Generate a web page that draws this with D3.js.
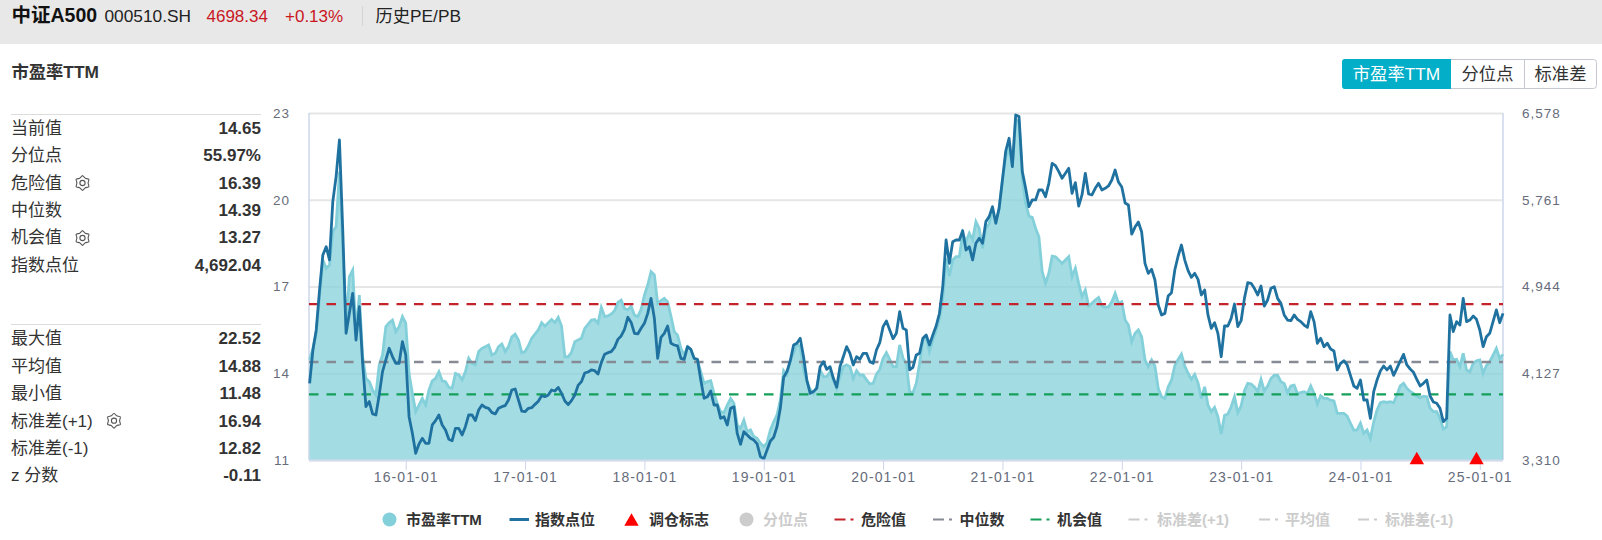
<!DOCTYPE html>
<html lang="zh-CN">
<head>
    <meta charset="UTF-8">
    <title>中证A500 历史PE/PB</title>
    <script src="https://cdn.jsdelivr.net/npm/d3@7"></script>
    <style>
        body { margin: 0; background: #fff; }
        svg { display: block; }
        text { font-family: "Liberation Sans", "Noto Sans CJK SC", sans-serif; }
        .axis text { font-size: 13.5px; fill: #666c7c; letter-spacing: 1px; }
        .axis path { display: none; }
        .axis-x text { font-size: 14px; letter-spacing: 1.1px; }
        .axis-x line { stroke: #ccd6eb; stroke-width: 1; }
        .grid line { stroke: #e6e6e6; stroke-width: 2; }
    </style>
</head>
<body>
<script>
    // 日期，约每 10 天一个点
    const dates = [
        '15-03-11','15-03-21',
        '15-04-01','15-04-11','15-04-21','15-05-01','15-05-11','15-05-21','15-06-01','15-06-11','15-06-21',
        '15-07-01','15-07-11','15-07-21','15-08-01','15-08-11','15-08-21','15-09-01','15-09-11','15-09-21',
        '15-10-01','15-10-11','15-10-21','15-11-01','15-11-11','15-11-21','15-12-01','15-12-11','15-12-21',
        '16-01-01','16-01-11','16-01-21','16-02-01','16-02-11','16-02-21','16-03-01','16-03-11','16-03-21',
        '16-04-01','16-04-11','16-04-21','16-05-01','16-05-11','16-05-21','16-06-01','16-06-11','16-06-21',
        '16-07-01','16-07-11','16-07-21','16-08-01','16-08-11','16-08-21','16-09-01','16-09-11','16-09-21',
        '16-10-01','16-10-11','16-10-21','16-11-01','16-11-11','16-11-21','16-12-01','16-12-11','16-12-21',
        '17-01-01','17-01-11','17-01-21','17-02-01','17-02-11','17-02-21','17-03-01','17-03-11','17-03-21',
        '17-04-01','17-04-11','17-04-21','17-05-01','17-05-11','17-05-21','17-06-01','17-06-11','17-06-21',
        '17-07-01','17-07-11','17-07-21','17-08-01','17-08-11','17-08-21','17-09-01','17-09-11','17-09-21',
        '17-10-01','17-10-11','17-10-21','17-11-01','17-11-11','17-11-21','17-12-01','17-12-11','17-12-21',
        '18-01-01','18-01-11','18-01-21','18-02-01','18-02-11','18-02-21','18-03-01','18-03-11','18-03-21',
        '18-04-01','18-04-11','18-04-21','18-05-01','18-05-11','18-05-21','18-06-01','18-06-11','18-06-21',
        '18-07-01','18-07-11','18-07-21','18-08-01','18-08-11','18-08-21','18-09-01','18-09-11','18-09-21',
        '18-10-01','18-10-11','18-10-21','18-11-01','18-11-11','18-11-21','18-12-01','18-12-11','18-12-21',
        '19-01-01','19-01-11','19-01-21','19-02-01','19-02-11','19-02-21','19-03-01','19-03-11','19-03-21',
        '19-04-01','19-04-11','19-04-21','19-05-01','19-05-11','19-05-21','19-06-01','19-06-11','19-06-21',
        '19-07-01','19-07-11','19-07-21','19-08-01','19-08-11','19-08-21','19-09-01','19-09-11','19-09-21',
        '19-10-01','19-10-11','19-10-21','19-11-01','19-11-11','19-11-21','19-12-01','19-12-11','19-12-21',
        '20-01-01','20-01-11','20-01-21','20-02-01','20-02-11','20-02-21','20-03-01','20-03-11','20-03-21',
        '20-04-01','20-04-11','20-04-21','20-05-01','20-05-11','20-05-21','20-06-01','20-06-11','20-06-21',
        '20-07-01','20-07-11','20-07-21','20-08-01','20-08-11','20-08-21','20-09-01','20-09-11','20-09-21',
        '20-10-01','20-10-11','20-10-21','20-11-01','20-11-11','20-11-21','20-12-01','20-12-11','20-12-21',
        '21-01-01','21-01-11','21-01-21','21-02-01','21-02-11','21-02-21','21-03-01','21-03-11','21-03-21',
        '21-04-01','21-04-11','21-04-21','21-05-01','21-05-11','21-05-21','21-06-01','21-06-11','21-06-21',
        '21-07-01','21-07-11','21-07-21','21-08-01','21-08-11','21-08-21','21-09-01','21-09-11','21-09-21',
        '21-10-01','21-10-11','21-10-21','21-11-01','21-11-11','21-11-21','21-12-01','21-12-11','21-12-21',
        '22-01-01','22-01-11','22-01-21','22-02-01','22-02-11','22-02-21','22-03-01','22-03-11','22-03-21',
        '22-04-01','22-04-11','22-04-21','22-05-01','22-05-11','22-05-21','22-06-01','22-06-11','22-06-21',
        '22-07-01','22-07-11','22-07-21','22-08-01','22-08-11','22-08-21','22-09-01','22-09-11','22-09-21',
        '22-10-01','22-10-11','22-10-21','22-11-01','22-11-11','22-11-21','22-12-01','22-12-11','22-12-21',
        '23-01-01','23-01-11','23-01-21','23-02-01','23-02-11','23-02-21','23-03-01','23-03-11','23-03-21',
        '23-04-01','23-04-11','23-04-21','23-05-01','23-05-11','23-05-21','23-06-01','23-06-11','23-06-21',
        '23-07-01','23-07-11','23-07-21','23-08-01','23-08-11','23-08-21','23-09-01','23-09-11','23-09-21',
        '23-10-01','23-10-11','23-10-21','23-11-01','23-11-11','23-11-21','23-12-01','23-12-11','23-12-21',
        '24-01-01','24-01-11','24-01-21','24-02-01','24-02-11','24-02-21','24-03-01','24-03-11','24-03-21',
        '24-04-01','24-04-11','24-04-21','24-05-01','24-05-11','24-05-21','24-06-01','24-06-11','24-06-21',
        '24-07-01','24-07-11','24-07-21','24-08-01','24-08-11','24-08-21','24-09-01','24-09-11','24-09-21',
        '24-10-01','24-10-11','24-10-21','24-11-01','24-11-11','24-11-21','24-12-01','24-12-11','24-12-21',
        '25-01-01','25-01-11','25-01-21','25-02-01','25-02-11','25-02-21','25-03-01','25-03-11'
    ];

    // 市盈率TTM
    const peValues = [
        14.46,14.86,15.38,16.65,17.92,17.63,17.74,18.90,19.07,20.97,
        18.38,15.61,17.34,17.57,15.38,16.70,14.57,13.82,13.71,13.42,
        13.25,14.29,14.63,15.61,15.75,15.84,15.44,15.61,15.96,15.73,
        13.99,13.31,12.67,12.90,13.13,12.90,13.42,13.74,13.82,14.05,
        13.74,13.71,13.51,13.48,13.99,13.94,13.77,14.05,14.52,14.34,
        14.29,14.75,14.86,14.92,14.98,14.63,14.69,14.92,
        15.01,14.75,14.92,15.26,15.35,15.15,14.71,14.75,14.95,15.21,
        15.35,15.50,15.75,15.63,15.75,15.86,15.75,15.93,15.63,14.57,
        14.57,14.72,15.09,15.15,15.21,15.55,15.69,15.84,15.86,15.73,
        16.28,15.96,15.98,16.05,16.16,16.45,16.53,16.24,16.19,16.32,
        16.01,15.96,16.21,16.70,17.05,17.51,17.40,16.42,16.51,16.59,
        16.47,15.98,15.44,15.32,14.86,14.63,14.92,14.83,14.51,14.46,
        14.05,13.65,13.71,13.74,13.30,12.94,12.67,12.64,12.90,13.13,
        12.96,12.21,12.09,12.38,11.98,12.04,11.81,11.75,11.58,11.46,
        11.60,12.04,12.32,12.56,13.07,14.09,13.94,14.43,14.69,15.01,
        14.92,14.11,13.71,13.44,13.30,13.53,
        14.11,13.88,13.88,14.05,13.77,13.48,13.88,14.23,14.29,14.23,
        13.82,14.09,13.94,13.94,13.77,13.63,13.65,13.97,14.13,14.52,
        14.71,14.48,14.23,14.23,14.98,14.52,14.34,13.36,13.33,13.65,
        14.34,15.15,15.24,14.75,15.15,15.47,15.90,16.59,17.97,17.36,
        17.92,18.03,18.03,18.84,18.55,18.84,18.61,19.24,19.01,18.32,
        19.01,19.18,19.64,19.21,19.70,20.68,21.47,21.78,21.14,22.76,
        22.70,20.68,19.88,19.44,19.39,19.01,18.72,17.51,17.11,17.46,
        18.05,18.03,17.92,17.80,17.92,18.03,17.34,17.63,17.11,16.65,
        16.88,16.33,16.42,16.53,16.62,16.33,16.28,16.30,16.47,16.76,
        16.42,16.47,15.84,15.67,15.09,15.38,15.50,15.26,14.46,14.23,
        14.46,14.25,13.48,13.19,13.13,13.53,13.76,14.27,14.48,14.66,
        14.25,14.00,13.79,13.96,13.67,13.13,13.53,12.90,12.67,12.82,
        12.50,11.90,12.55,12.59,12.84,13.19,12.64,12.87,13.40,13.65,
        13.63,13.53,13.36,13.79,13.39,13.56,13.82,13.93,13.93,13.71,
        13.65,13.33,13.56,13.59,13.30,13.33,13.36,13.30,13.56,13.30,
        12.94,13.22,13.13,13.13,13.07,13.04,12.61,12.61,12.61,12.52,
        12.27,12.03,12.04,12.27,11.92,12.04,11.75,12.32,12.73,12.98,
        13.02,12.99,13.02,12.98,13.25,13.56,13.65,13.48,13.37,13.30,
        13.21,13.15,13.21,13.19,12.79,12.67,12.67,12.44,12.07,12.15,
        14.75,14.46,14.48,14.23,14.69,14.11,14.05,14.34,14.43,14.46,
        14.00,14.27,14.40,14.63,14.86,14.51,14.65
    ];

    // 指数点位
    const indexValues = [
        4032,4346,4535,4911,5241,5319,5194,5743,5979,6324,
        5476,4503,4692,4880,4440,4754,4221,3813,3860,3744,
        3734,3923,4142,4252,4362,4284,4221,4221,4425,4299,
        3718,3562,3373,3461,3514,3467,3467,3640,3681,3734,
        3640,3593,3505,3492,3608,3608,3546,3624,3734,3734,
        3681,3781,3828,3806,3797,3756,3744,3797,
        3812,3822,3875,3969,3979,3875,3771,3765,3797,3803,
        3834,3863,3916,3906,3922,3969,3960,3994,3938,3866,
        3831,3869,3922,4013,4048,4129,4139,4158,4151,4120,
        4227,4305,4321,4330,4371,4446,4478,4541,4654,4606,
        4503,4497,4550,4597,4691,4832,4644,4267,4465,4503,
        4572,4409,4393,4384,4267,4258,4377,4352,4267,4258,
        4063,3891,3906,3960,3828,3828,3702,3718,3640,3797,
        3812,3561,3458,3577,3546,3514,3498,3461,3341,3320,
        3404,3489,3524,3624,3797,4089,4142,4245,4393,4409,
        4456,4283,4063,3938,3954,3985,
        4189,4236,4164,4189,4079,3995,4189,4283,4378,4315,
        4205,4283,4258,4315,4315,4236,4221,4346,4415,4566,
        4619,4535,4453,4503,4707,4550,4535,4158,4183,4299,
        4315,4456,4487,4393,4487,4572,4692,4943,5382,5162,
        5366,5382,5382,5470,5288,5319,5194,5351,5398,5351,
        5555,5602,5696,5539,5680,5947,6220,6340,6073,6559,
        6544,6026,5869,5696,5759,5759,5853,5853,5790,5916,
        6104,6082,6026,5963,6010,6057,5822,5922,5702,5806,
        6010,5815,5806,5869,5916,5853,5869,5891,5947,6041,
        5928,5881,5730,5712,5438,5504,5551,5457,
        5162,5068,5106,5005,4770,4676,4691,4854,4886,5099,
        5231,5335,5193,5093,5030,5068,5011,4864,4911,4676,
        4550,4603,4503,4283,4572,4572,4644,4779,4566,4622,
        4832,4980,4974,4927,4864,4949,4760,4817,4927,4942,
        4832,4785,4676,4628,4622,4676,4635,4613,4581,4559,
        4707,4613,4409,4456,4377,4409,4355,4337,4158,4220,
        4245,4205,4104,4007,3985,4063,3875,3875,3702,3954,
        4063,4148,4195,4158,4195,4107,4173,4242,4305,4205,
        4167,4136,4070,4007,4032,4063,3913,3856,3844,3797,
        3671,3702,4676,4519,4613,4581,4832,4613,4628,4666,
        4635,4534,4377,4471,4503,4613,4723,4603,4691
    ];

    // 调仓标志
    const rebalanceDates = ['24-06-21', '24-12-21'];

    // 参考线
    const dangerValue = 16.39;
    const medianValue = 14.39;
    const chanceValue = 13.27;

    // 刻度
    const xTickLabels = ['16-01-01','17-01-01','18-01-01','19-01-01','20-01-01','21-01-01','22-01-01','23-01-01','24-01-01','25-01-01'];
    const peTicks = [11, 14, 17, 20, 23];
    const indexTicks = [3310, 4127, 4944, 5761, 6578];

    // 左侧统计表
    const statsTop = [['当前值','14.65'],['分位点','55.97%'],['危险值','16.39'],['中位数','14.39'],['机会值','13.27'],['指数点位','4,692.04']];
    const statsBottom = [['最大值','22.52'],['平均值','14.88'],['最小值','11.48'],['标准差(+1)','16.94'],['标准差(-1)','12.82'],['z 分数','-0.11']];

    const legendLabels = ['市盈率TTM','指数点位','调仓标志','分位点','危险值','中位数','机会值','标准差(+1)','平均值','标准差(-1)'];
    const tabLabels = ['市盈率TTM','分位点','标准差'];

    const w = 1602, h = 540;
    const plotLeft = 309, plotRight = 1503, plotTop = 113, plotBottom = 460;

    const svg = d3.select('body').append('svg')
        .attr('width', w)
        .attr('height', h);

    // 顶部标题栏
    svg.append('rect').attr('width', w).attr('height', 44).attr('fill', '#e8e8e8');
    const head = [
        ['中证A500', 11.5, 19.5, 'bold', '#111'],
        ['000510.SH', 104.5, 17.3, 'normal', '#222'],
        ['4698.34', 206.5, 17, 'normal', '#c8171e'],
        ['+0.13%', 285, 17, 'normal', '#c8171e'],
        ['历史PE/PB', 375.5, 17.3, 'normal', '#222']
    ];
    svg.selectAll('.head').data(head).enter().append('text')
        .attr('x', d => d[1]).attr('y', 21.5)
        .attr('font-size', d => d[2]).attr('font-weight', d => d[3]).attr('fill', d => d[4])
        .text(d => d[0]);
    svg.append('line').attr('x1', 362.5).attr('x2', 362.5).attr('y1', 6).attr('y2', 26).attr('stroke', '#d4d4d4');

    svg.append('text').attr('x', 11.5).attr('y', 78)
        .attr('font-size', 17.3).attr('font-weight', 'bold').attr('fill', '#333')
        .text('市盈率TTM');

    // 右上角切换按钮
    const tabX = [1342, 1451, 1524, 1597];
    svg.append('rect').attr('x', 1342.5).attr('y', 59.5).attr('width', 254).attr('height', 29)
        .attr('rx', 3).attr('fill', '#fff').attr('stroke', '#c5c8d0');
    svg.append('path')
        .attr('d', 'M1451,59 H1345 a3,3 0 0 0 -3,3 V86 a3,3 0 0 0 3,3 H1451 Z')
        .attr('fill', '#02aec8');
    svg.append('line').attr('x1', 1524.5).attr('x2', 1524.5).attr('y1', 59).attr('y2', 89).attr('stroke', '#c5c8d0');
    svg.selectAll('.tab').data(tabLabels).enter().append('text')
        .attr('x', (d, i) => (tabX[i] + tabX[i + 1]) / 2).attr('y', 79.5)
        .attr('text-anchor', 'middle').attr('font-size', 17.3)
        .attr('fill', (d, i) => i === 0 ? '#fff' : '#333')
        .text(d => d);

    // 齿轮图标
    const gearLine = d3.lineRadial().curve(d3.curveCardinalClosed.tension(0.5));
    const gearPts = d3.range(12).map(i => [i * Math.PI / 6, i % 2 ? 5.6 : 7.4]);
    function gear(x, y) {
        const g = svg.append('g').attr('transform', `translate(${x},${y})`)
            .attr('fill', 'none').attr('stroke', '#555').attr('stroke-width', 1.1);
        g.append('path').attr('d', gearLine(gearPts));
        g.append('circle').attr('r', 2.6);
    }

    // 左侧统计表
    function stats(rows, ruleY, firstY) {
        svg.append('line').attr('x1', 11).attr('x2', 261).attr('y1', ruleY).attr('y2', ruleY)
            .attr('stroke', '#dcdcdc').attr('stroke-width', 1.2);
        rows.forEach((r, i) => {
            const y = firstY + i * 27.4 + 6;
            svg.append('text').attr('x', 11).attr('y', y).attr('font-size', 17).attr('fill', '#333').text(r[0]);
            svg.append('text').attr('x', 261).attr('y', y).attr('font-size', 17).attr('font-weight', 'bold')
                .attr('text-anchor', 'end').attr('fill', '#333').text(r[1]);
        });
    }
    stats(statsTop, 114.5, 127.7);
    stats(statsBottom, 324.5, 338.3);
    gear(82.5, 183);
    gear(82.5, 238);
    gear(114, 420.7);

    // 比例尺
    const xScale = d3.scalePoint().domain(dates).range([plotLeft + 0.6, plotRight]);
    const yPe = d3.scaleLinear().domain([11, 23]).range([plotBottom, plotTop]);
    const yIndex = d3.scaleLinear().domain([3310, 6578]).range([plotBottom, plotTop]);

    // 网格线
    svg.append('g').attr('class', 'grid')
        .attr('transform', `translate(${plotLeft},0)`)
        .call(d3.axisRight(yPe).tickValues(peTicks).tickSize(plotRight - plotLeft).tickFormat(''))
        .call(g => g.select('.domain').remove());

    // 图表边框
    svg.append('line').attr('x1', plotLeft).attr('x2', plotLeft).attr('y1', plotTop).attr('y2', plotBottom).attr('stroke', '#ccd6eb').attr('stroke-width', 1.5);
    svg.append('line').attr('x1', plotRight).attr('x2', plotRight).attr('y1', plotTop).attr('y2', plotBottom).attr('stroke', '#ccd6eb').attr('stroke-width', 1.5);

    // 市盈率面积
    const area = d3.area()
        .x((d, i) => xScale(dates[i]))
        .y0(plotBottom)
        .y1(d => yPe(d));
    svg.append('path').datum(peValues)
        .attr('d', area)
        .attr('fill', '#84d0da')
        .attr('fill-opacity', 0.75);

    const peLine = d3.line()
        .x((d, i) => xScale(dates[i]))
        .y(d => yPe(d));
    svg.append('path').datum(peValues)
        .attr('d', peLine)
        .attr('fill', 'none')
        .attr('stroke', '#84d0da')
        .attr('stroke-width', 2.8);

    // 危险值、中位数、机会值
    const refLines = [[dangerValue, '#c4232b'], [medianValue, '#868a94'], [chanceValue, '#14a05a']];
    svg.selectAll('.ref').data(refLines).enter().append('line')
        .attr('x1', plotLeft).attr('x2', plotRight)
        .attr('y1', d => yPe(d[0])).attr('y2', d => yPe(d[0]))
        .attr('stroke', d => d[1])
        .attr('stroke-width', 2.4)
        .attr('stroke-dasharray', '9.5 8');

    // 指数点位
    const indexLine = d3.line()
        .x((d, i) => xScale(dates[i]))
        .y(d => yIndex(d));
    svg.append('path').datum(indexValues)
        .attr('d', indexLine)
        .attr('fill', 'none')
        .attr('stroke', '#1f72a0')
        .attr('stroke-width', 2.8)
        .attr('stroke-linejoin', 'round');

    // 底部横轴
    svg.append('g').attr('class', 'axis axis-x')
        .attr('transform', `translate(0,${plotBottom})`)
        .call(d3.axisBottom(xScale).tickValues(xTickLabels).tickSize(10).tickPadding(2));
    svg.append('line').attr('x1', plotLeft).attr('x2', plotRight).attr('y1', plotBottom + 0.5).attr('y2', plotBottom + 0.5)
        .attr('stroke', '#d5dcee').attr('stroke-width', 2);

    // 左右纵轴
    svg.append('g').attr('class', 'axis')
        .attr('transform', `translate(${plotLeft},0)`)
        .call(d3.axisLeft(yPe).tickValues(peTicks).tickSize(0).tickPadding(19));
    svg.append('g').attr('class', 'axis')
        .attr('transform', `translate(${plotRight},0)`)
        .call(d3.axisRight(yIndex).tickValues(indexTicks).tickFormat(d3.format(',')).tickSize(0).tickPadding(19));

    // 调仓标志
    svg.selectAll('.mark').data(rebalanceDates).enter().append('path')
        .attr('d', d3.symbol(d3.symbolTriangle, 90))
        .attr('transform', d => `translate(${xScale(d)},${plotBottom})`)
        .attr('fill', '#ff0000');

    // 图例
    const legendX = [406, 535, 649, 763, 861, 959.5, 1057, 1157, 1285, 1385];
    const legendColors = ['#333','#333','#333','#ccc','#333','#333','#333','#ccc','#ccc','#ccc'];
    svg.selectAll('.legend').data(legendLabels).enter().append('text')
        .attr('x', (d, i) => legendX[i]).attr('y', 525)
        .attr('font-size', 15).attr('font-weight', 'bold')
        .attr('fill', (d, i) => legendColors[i])
        .text(d => d);
    const legendY = 519.5;
    svg.append('circle').attr('cx', 389.5).attr('cy', legendY).attr('r', 7).attr('fill', '#84d0da');
    svg.append('line').attr('x1', 509.5).attr('x2', 529).attr('y1', legendY).attr('y2', legendY).attr('stroke', '#1f72a0').attr('stroke-width', 3);
    svg.append('path').attr('d', d3.symbol(d3.symbolTriangle, 90)).attr('transform', `translate(631.5,${legendY + 2})`).attr('fill', '#ff0000');
    svg.append('circle').attr('cx', 746.5).attr('cy', legendY).attr('r', 7).attr('fill', '#ccc');
    const legendDash = [[834.5, '#c4232b'], [933, '#868a94'], [1030.5, '#14a05a'], [1128.5, '#ccc'], [1259, '#ccc'], [1358, '#ccc']];
    svg.selectAll('.legend-dash').data(legendDash).enter().append('line')
        .attr('x1', d => d[0]).attr('x2', d => d[0] + 19)
        .attr('y1', legendY).attr('y2', legendY)
        .attr('stroke', d => d[1]).attr('stroke-width', 2)
        .attr('stroke-dasharray', '11 5 3');
</script>
</body>
</html>
